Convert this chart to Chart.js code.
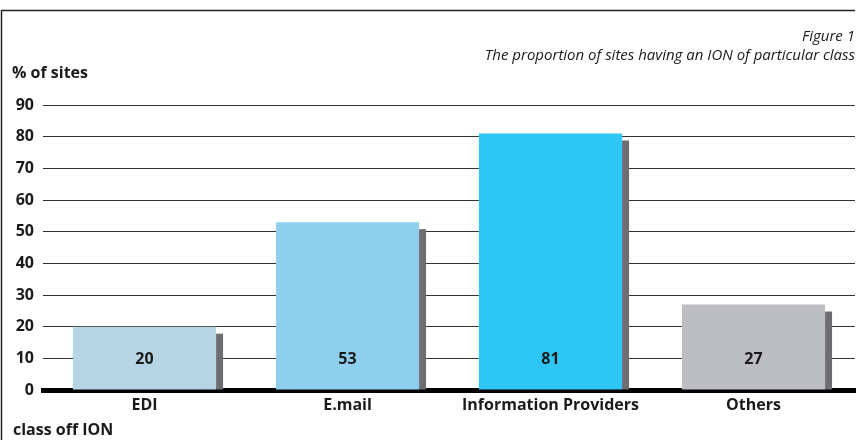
<!DOCTYPE html>
<html>
<head>
<meta charset="utf-8">
<title>Figure 1</title>
<script src="https://cdn.jsdelivr.net/npm/chart.js@4.4.0/dist/chart.umd.min.js"></script>
<style>
  body { margin: 0; background: #fff; }
  canvas { display: block; }
</style>
</head>
<body>
<canvas id="ionChart" width="861" height="440"></canvas>
<script>
// data
const categories = ['EDI', 'E.mail', 'Information Providers', 'Others'];
const sitePercent = [20, 53, 81, 27];
const barColours = ['#b5d5e5', '#8dcfed', '#2ec6f4', '#bdbec2'];
const yTicks = [0, 10, 20, 30, 40, 50, 60, 70, 80, 90];

const fontFamily = '"Open Sans", "Noto Sans", sans-serif';
const textColour = '#1a1a1a';
const shadowColour = '#6d6e71';

// dark block to the right of each bar, a bit lower than the bar top
const barShadow = {
  id: 'barShadow',
  beforeDatasetsDraw(chart) {
    const ctx = chart.ctx;
    const meta = chart.getDatasetMeta(0);
    ctx.save();
    ctx.fillStyle = shadowColour;
    meta.data.forEach(function (bar) {
      const right = bar.x + bar.width / 2;
      const top = bar.y + 7;
      ctx.fillRect(right, top, 7, bar.base - top);
    });
    ctx.restore();
  }
};

// numbers inside bars plus the loose texts and the frame
const extraText = {
  id: 'extraText',
  afterDatasetsDraw(chart) {
    const ctx = chart.ctx;
    const meta = chart.getDatasetMeta(0);
    const yScale = chart.scales.y;
    ctx.save();
    ctx.fillStyle = textColour;
    ctx.font = 'bold 16px ' + fontFamily;
    ctx.textAlign = 'center';
    ctx.textBaseline = 'middle';
    meta.data.forEach(function (bar, i) {
      ctx.fillText(String(sitePercent[i]), bar.x, yScale.getPixelForValue(10) + 1);
    });
    ctx.restore();
  },
  afterDraw(chart) {
    const ctx = chart.ctx;
    const area = chart.chartArea;
    ctx.save();
    // frame
    ctx.strokeStyle = '#222';
    ctx.lineWidth = 1.5;
    ctx.beginPath();
    ctx.moveTo(area.right, 10.5);
    ctx.lineTo(1.5, 10.5);
    ctx.lineTo(1.5, 440);
    ctx.stroke();

    ctx.fillStyle = textColour;
    ctx.textBaseline = 'middle';
    ctx.textAlign = 'right';
    ctx.font = 'italic 15px ' + fontFamily;
    ctx.fillText('Figure 1', area.right, 37);
    ctx.fillText('The proportion of sites having an ION of particular class', area.right, 56);

    ctx.textAlign = 'left';
    ctx.font = 'bold 16px ' + fontFamily;
    ctx.fillText('% of sites', 12, 73);
    ctx.fillText('class off ION', 13, 430);
    ctx.restore();
  }
};

const ctx = document.getElementById('ionChart').getContext('2d');
const ionChart = new Chart(ctx, {
  type: 'bar',
  data: {
    labels: categories,
    datasets: [{
      data: sitePercent,
      backgroundColor: barColours,
      borderWidth: 0,
      categoryPercentage: 0.705,
      barPercentage: 1
    }]
  },
  options: {
    responsive: false,
    animation: false,
    layout: { padding: { top: 105, right: 6, left: 0, bottom: 0 } },
    plugins: {
      legend: { display: false },
      tooltip: { enabled: false }
    },
    scales: {
      x: {
        z: 1,
        grid: { display: false, drawTicks: false },
        border: { display: true, color: '#000', width: 5 },
        ticks: {
          color: textColour,
          padding: 6,
          font: { family: fontFamily, size: 16, weight: 'bold' }
        },
        afterFit(scale) { scale.height = 50; }
      },
      y: {
        min: 0,
        max: 90,
        afterBuildTicks(scale) {
          scale.ticks = yTicks.map(function (v) { return { value: v }; });
        },
        grid: { color: '#333', lineWidth: 1, drawTicks: false },
        border: { display: false },
        ticks: {
          color: textColour,
          padding: 9,
          font: { family: fontFamily, size: 16, weight: 'bold' }
        },
        afterFit(scale) { scale.width = 43; }
      }
    }
  },
  plugins: [barShadow, extraText]
});
</script>
</body>
</html>
